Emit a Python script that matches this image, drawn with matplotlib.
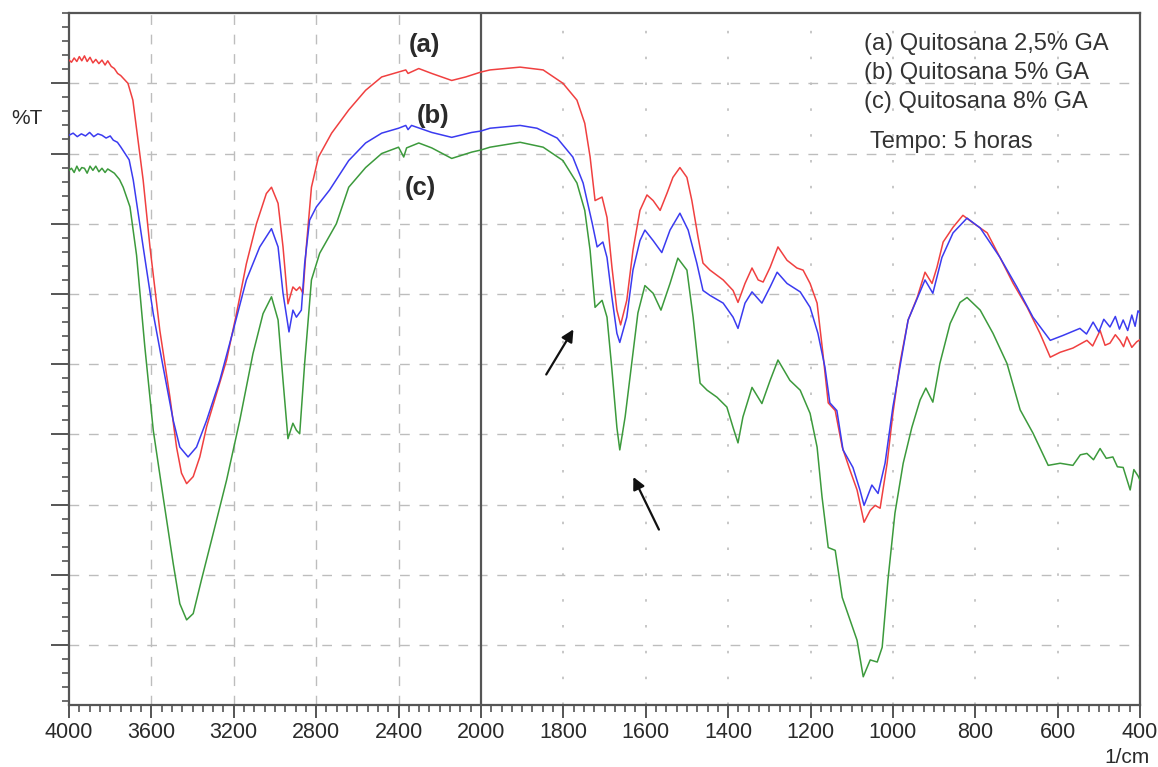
import numpy as np
import matplotlib
matplotlib.use("Agg")
import matplotlib.pyplot as plt
from matplotlib.ticker import FixedLocator, MultipleLocator, NullFormatter

plt.rcParams['font.family'] = ['Liberation Sans', 'DejaVu Sans']

# =========================
# SPECTRA (wavenumber 1/cm, %T)
# =========================
wn_a = [4000, 3988, 3975, 3962, 3950, 3938, 3925, 3912, 3898, 3884, 3870, 3855, 3840, 3825,
        3812, 3795, 3780, 3764, 3749, 3733, 3714, 3690, 3665, 3640, 3607, 3559, 3510, 3478,
        3454, 3429, 3397, 3365, 3332, 3284, 3235, 3187, 3139, 3090, 3042, 3017, 2985, 2961,
        2937, 2913, 2896, 2880, 2864, 2848, 2823, 2789, 2725, 2642, 2560, 2482, 2400, 2365,
        2354, 2302, 2239, 2142, 2074, 2000,
        1978, 1905, 1849, 1801, 1767, 1748, 1735, 1723, 1706, 1694,
        1682, 1670, 1661, 1646, 1631, 1614, 1597, 1582, 1565, 1548, 1534, 1517, 1500, 1488,
        1473, 1461, 1444, 1412, 1388, 1376, 1359, 1342, 1327, 1315, 1298, 1279, 1257, 1233,
        1218, 1201, 1184, 1170, 1157, 1140, 1123, 1104, 1087, 1070, 1055, 1043, 1031, 1014,
        1000, 983, 963, 941, 922, 905, 893, 878, 854, 830, 805, 771, 740, 708, 674, 643, 618,
        594, 563, 529, 515, 497, 485, 473, 460, 449, 440, 432, 420, 408, 400]
T_a = [93.3, 93.0, 93.6, 93.1, 93.8, 93.2, 93.9, 93.1, 93.7, 92.9, 93.4, 92.8, 93.3, 92.6,
       93.2, 92.4, 92.1, 91.4, 91.1, 90.6, 90.0, 87.6, 81.9, 76.2, 66.7, 54.8, 45.3, 38.2,
       34.5, 33.0, 34.0, 36.8, 41.1, 45.8, 50.6, 57.2, 64.3, 70.0, 74.3, 75.2, 72.9, 66.7,
       58.6, 61.0, 60.5, 61.0, 60.1, 66.7, 75.2, 79.5, 82.9, 86.2, 89.0, 90.9, 91.6, 91.9,
       91.4, 92.1, 91.4, 90.4, 90.9, 91.6,
       91.9, 92.3, 91.9, 90.0, 87.6, 84.3, 79.5, 73.3, 73.8, 70.9,
       63.8, 57.7, 55.6, 59.1, 66.2, 71.9, 74.1, 73.3, 71.9, 74.4, 76.6, 78.0, 76.6, 73.3,
       68.1, 64.4, 63.4, 62.0, 60.5, 58.8, 61.5, 63.7, 62.0, 61.7, 63.8, 66.7, 64.8, 63.7,
       63.4, 61.5, 58.7, 51.6, 44.5, 43.4, 38.2, 34.9, 32.1, 27.5, 29.2, 29.9, 29.5, 35.9,
       43.0, 50.1, 56.3, 59.5, 63.1, 61.5, 63.8, 67.4, 69.5, 71.2, 70.1, 68.7, 65.2, 61.5,
       58.1, 54.4, 51.0, 51.7, 52.3, 53.4, 52.6, 54.8, 52.7, 53.0, 54.2, 53.4, 52.5, 53.9,
       52.4, 53.2, 53.5]

wn_b = [4000, 3980, 3960, 3940, 3920, 3900, 3880, 3860, 3840, 3820, 3800, 3785, 3765, 3748,
        3708, 3688, 3640, 3591, 3543, 3494, 3462, 3422, 3381, 3332, 3268, 3203, 3139, 3074,
        3017, 2985, 2961, 2932, 2913, 2896, 2872, 2856, 2832, 2799, 2735, 2642, 2560, 2482,
        2400, 2365, 2354, 2337, 2239, 2142, 2045, 2000,
        1978, 1905, 1864, 1815, 1777, 1752, 1730, 1718,
        1704, 1694, 1682, 1670, 1663, 1646, 1631, 1614, 1602, 1582, 1561, 1541, 1517, 1497,
        1476, 1461, 1444, 1412, 1388, 1376, 1359, 1342, 1318, 1298, 1281, 1257, 1225, 1201,
        1182, 1165, 1153, 1136, 1121, 1097, 1080, 1070, 1051, 1036, 1019, 1000, 963, 922,
        903, 881, 854, 820, 788, 740, 699, 660, 618, 587, 546, 530, 514, 500, 488, 473, 460,
        450, 441, 430, 420, 412, 405, 400]
T_b = [82.6, 82.9, 82.4, 82.8, 82.5, 83.0, 82.4, 82.8, 82.6, 82.2, 82.5, 81.9, 81.6, 80.9,
       79.1, 76.2, 66.7, 57.2, 49.6, 42.0, 38.2, 36.8, 38.2, 42.0, 47.7, 54.8, 62.0, 66.7,
       69.3, 66.7, 60.1, 54.6, 57.7, 56.7, 57.7, 64.3, 70.5, 72.4, 74.8, 79.0, 81.5, 82.9,
       83.6, 84.0, 83.4, 84.0, 83.0, 82.3, 83.0, 83.2,
       83.6, 84.0, 83.6, 82.2, 79.5, 75.8, 70.1, 66.7,
       67.4, 65.2, 59.5, 54.4, 53.1, 56.7, 63.4, 67.6, 69.1, 67.6, 65.9, 69.1, 71.5, 69.1,
       64.4, 60.5, 59.8, 58.7, 56.7, 55.1, 58.7, 60.3, 58.7, 61.0, 63.1, 61.5, 60.3, 58.1,
       54.4, 49.6, 44.5, 43.4, 37.8, 35.3, 32.1, 29.9, 32.8, 31.6, 35.9, 43.9, 56.3, 62.0,
       60.1, 65.2, 68.7, 70.8, 69.4, 65.2, 61.0, 56.7, 53.4, 54.1, 55.1, 54.3, 56.0, 54.6,
       56.4, 55.3, 56.8, 55.0, 56.3, 54.8, 57.0, 55.4, 57.6, 57.3]

wn_c = [4000, 3988, 3975, 3962, 3950, 3938, 3925, 3912, 3898, 3884, 3870, 3855, 3840, 3825,
        3812, 3780, 3755, 3737, 3704, 3672, 3632, 3591, 3543, 3494, 3462, 3429, 3397, 3357,
        3300, 3235, 3171, 3107, 3058, 3017, 2985, 2961, 2937, 2913, 2896, 2880, 2856, 2823,
        2783, 2702, 2642, 2560, 2482, 2400, 2375, 2361, 2302, 2239, 2142, 2045, 2000,
        1978, 1905, 1849, 1801, 1767, 1748, 1735, 1723, 1706, 1694, 1682, 1670, 1663,
        1650, 1633, 1619, 1602, 1582, 1563, 1541, 1522, 1500, 1485, 1468, 1451, 1427, 1403,
        1388, 1376, 1364, 1342, 1318, 1298, 1279, 1250, 1225, 1201, 1184, 1172, 1157, 1140,
        1123, 1104, 1087, 1072, 1055, 1038, 1026, 1012, 995, 975, 954, 934, 920, 903, 886,
        861, 837, 820, 788, 757, 723, 691, 660, 623, 594, 563, 545, 529, 513, 497, 482, 466,
        455, 441, 432, 424, 415, 405, 400]
T_c = [77.6, 77.9, 77.3, 78.2, 77.5, 78.0, 77.9, 77.2, 78.2, 77.6, 78.2, 77.4, 77.9, 77.3,
       77.8, 77.2, 76.3, 75.2, 72.4, 65.5, 52.5, 40.6, 31.1, 21.6, 15.9, 13.6, 14.5, 19.3,
       25.9, 33.5, 42.0, 51.5, 57.2, 59.6, 56.3, 47.7, 39.4, 41.6, 40.6, 40.1, 50.1, 62.0,
       65.8, 70.0, 75.2, 78.0, 80.0, 80.9, 79.5, 80.8, 81.5, 80.8, 79.3, 80.2, 80.5,
       80.9, 81.6, 80.9, 79.0, 75.8, 71.9, 66.2, 58.1, 59.1, 56.7, 49.2, 41.0, 37.8,
       42.5, 50.6, 57.3, 61.2, 60.1, 57.7, 61.5, 65.1, 63.4, 56.7, 47.3, 46.3, 45.3, 43.9,
       41.0, 38.8, 42.5, 46.7, 44.4, 47.7, 50.6, 47.7, 46.3, 43.0, 38.2, 31.1, 23.9, 23.5,
       16.8, 13.6, 10.7, 5.5, 7.9, 7.6, 9.7, 19.3, 28.8, 35.9, 41.0, 44.9, 46.6, 44.6, 50.1,
       55.8, 58.8, 59.5, 57.7, 54.4, 50.1, 43.5, 40.2, 35.6, 35.9, 35.6, 37.1, 37.3, 36.4,
       38.0, 36.6, 36.8, 35.4, 35.3, 33.6, 32.1, 35.0, 34.1, 33.5]

x_major = [4000, 3600, 3200, 2800, 2400, 2000, 1800, 1600, 1400, 1200, 1000, 800, 600, 400]
y_grid = [10, 20, 30, 40, 50, 60, 70, 80, 90]
legend_lines = ["(a) Quitosana 2,5% GA", "(b) Quitosana 5% GA", "(c) Quitosana 8% GA"]


# piecewise scale: 2000-400 drawn at twice the scale of 4000-2000
def fwd(x):
    x = np.asarray(x, dtype=float)
    return np.where(x >= 2000, x, 2 * x - 2000)


def inv(u):
    u = np.asarray(u, dtype=float)
    return np.where(u >= 2000, u, (u + 2000) / 2)


fig = plt.figure(figsize=(11.58, 7.67), dpi=100)
ax = fig.add_axes([0.0596, 0.081, 0.9249, 0.902])
ax.set_xscale('function', functions=(fwd, inv))
ax.set_xlim(4000, 400)
ax.set_ylim(1.5, 100)

# grid
for v in y_grid:
    ax.axhline(v, color='#bdbdbd', lw=1.0, ls=(0, (7, 7)), zorder=1)
for v in x_major[1:5]:
    ax.axvline(v, color='#bdbdbd', lw=1.0, ls=(0, (7, 7)), zorder=1)
for v in x_major[6:-1]:
    ax.axvline(v, color='#bdbdbd', lw=1.2, ls=(0, (1.5, 14)), zorder=1)
ax.axvline(2000, color='#555555', lw=1.6, zorder=2)

# spectra
ax.plot(wn_a, T_a, color='#f04040', lw=1.1, zorder=3)
ax.plot(wn_c, T_c, color='#3c9a3c', lw=1.1, zorder=3)
ax.plot(wn_b, T_b, color='#3b3bf0', lw=1.1, zorder=4)

# curve labels
ax.text(2275, 95.4, "(a)", fontsize=18.5, fontweight='bold', color='#2a2a2a', ha='center', va='center')
ax.text(2231, 85.4, "(b)", fontsize=18.5, fontweight='bold', color='#2a2a2a', ha='center', va='center')
ax.text(2294, 75.1, "(c)", fontsize=18.5, fontweight='bold', color='#2a2a2a', ha='center', va='center')

# arrows
ax.annotate("", xy=(1772, 55.3), xytext=(1845, 48.2),
            arrowprops=dict(arrowstyle='-|>', color='#111111', lw=1.6, mutation_scale=18))
ax.annotate("", xy=(1633, 34.3), xytext=(1565, 26.1),
            arrowprops=dict(arrowstyle='-|>', color='#111111', lw=1.6, mutation_scale=18))

# legend text
for i, line in enumerate(legend_lines):
    ax.text(0.742, 0.955 - i * 0.042, line, transform=ax.transAxes, fontsize=17,
            color='#333333', va='center', ha='left')
ax.text(0.748, 0.814, "Tempo: 5 horas", transform=ax.transAxes, fontsize=17,
        color='#333333', va='center', ha='left')

# axes styling
for s in ax.spines.values():
    s.set_color('#555555')
    s.set_linewidth(1.6)
ax.xaxis.set_major_locator(FixedLocator(x_major))
ax.xaxis.set_minor_locator(FixedLocator(list(range(4000, 2000, -50)) + list(range(2000, 399, -25))))
ax.xaxis.set_minor_formatter(NullFormatter())
ax.set_xticklabels([str(v) for v in x_major])
ax.yaxis.set_major_locator(FixedLocator(y_grid))
ax.yaxis.set_minor_locator(MultipleLocator(2))
ax.yaxis.set_major_formatter(NullFormatter())
ax.tick_params(axis='x', which='major', direction='out', length=9, width=1.4, color='#555555',
               labelsize=15.5, labelcolor='#2a2a2a', pad=3)
ax.tick_params(axis='x', which='minor', direction='out', length=5, width=1.2, color='#555555')
ax.tick_params(axis='y', which='major', direction='out', length=13, width=1.4, color='#555555')
ax.tick_params(axis='y', which='minor', direction='out', length=5, width=1.2, color='#555555')

fig.text(0.010, 0.846, "%T", fontsize=15, color='#2a2a2a', va='center', ha='left')
fig.text(0.993, 0.013, "1/cm", fontsize=15, color='#2a2a2a', va='center', ha='right')

fig.savefig("out.png", dpi=100)
